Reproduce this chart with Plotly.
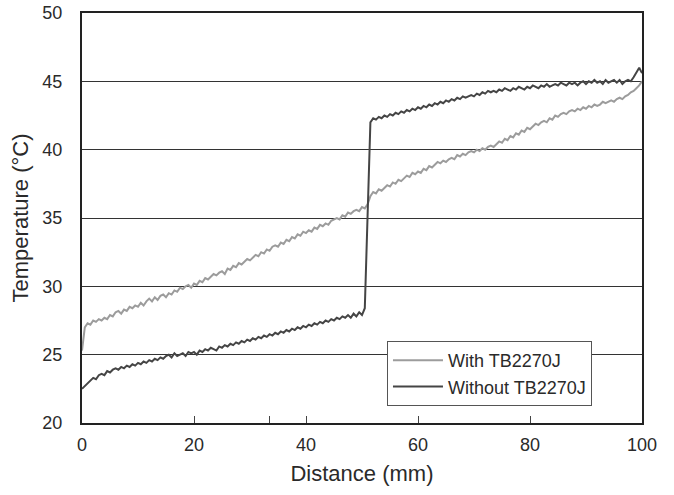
import numpy as np
import plotly.graph_objects as go

# Distance sampling grid (mm), 0.5 mm steps
distance = np.linspace(0, 100, 201)

with_tb = [
    25.3, 27.0, 27.3, 27.2, 27.5, 27.4, 27.6, 27.5, 27.7, 27.6,
    27.9, 27.8, 28.1, 28.2, 28.0, 28.3, 28.2, 28.5, 28.4, 28.6,
    28.5, 28.8, 28.6, 28.9, 29.1, 28.9, 29.2, 29.0, 29.3, 29.4,
    29.2, 29.5, 29.4, 29.7, 29.6, 29.9, 29.8, 30.0, 30.1, 29.9,
    30.2, 30.1, 30.4, 30.3, 30.6, 30.5, 30.7, 30.9, 30.8, 31.0,
    31.1, 30.9, 31.3, 31.2, 31.5, 31.4, 31.7, 31.6, 31.8, 32.0,
    31.9, 32.1, 32.3, 32.2, 32.5, 32.4, 32.7, 32.6, 32.9, 33.0,
    32.9, 33.2, 33.1, 33.4, 33.3, 33.6, 33.5, 33.8, 33.7, 34.0,
    33.9, 34.1, 34.0, 34.3, 34.2, 34.5, 34.4, 34.6, 34.5, 34.8,
    34.9, 35.0, 34.9, 35.2, 35.1, 35.4, 35.3, 35.5, 35.6, 35.5,
    35.8, 35.7, 36.0, 36.6, 36.9, 36.8, 37.1, 37.0, 37.2, 37.4,
    37.3, 37.6, 37.5, 37.8, 37.7, 37.9, 38.1, 38.0, 38.3, 38.2,
    38.4, 38.3, 38.6, 38.5, 38.8, 38.7, 38.9, 39.1, 39.0, 39.2,
    39.1, 39.3, 39.4, 39.3, 39.6, 39.5, 39.7, 39.6, 39.8, 39.9,
    39.8, 40.0, 39.9, 40.1, 40.0, 40.2, 40.3, 40.2, 40.4, 40.6,
    40.5, 40.8, 40.7, 41.0, 40.9, 41.2, 41.1, 41.4, 41.3, 41.6,
    41.5, 41.7, 41.9, 41.8, 42.0, 42.1, 42.0, 42.3, 42.2, 42.5,
    42.4, 42.6, 42.7, 42.6, 42.8, 42.9, 42.8, 43.0, 42.9, 43.1,
    43.0, 43.2, 43.1, 43.3, 43.2, 43.3, 43.5, 43.4, 43.5, 43.6,
    43.5, 43.7, 43.8, 43.7, 43.9, 44.0, 44.2, 44.3, 44.5, 44.7,
    45.0,
]

without_tb = [
    22.5, 22.7, 22.9, 23.1, 23.3, 23.2, 23.5, 23.6, 23.5, 23.8,
    23.7, 23.9, 24.0, 23.9, 24.1, 24.0, 24.2, 24.1, 24.3, 24.2,
    24.4, 24.3, 24.5, 24.4, 24.6, 24.5, 24.7, 24.6, 24.8, 24.7,
    24.9, 25.0, 24.8, 25.1, 24.9, 25.0, 25.1, 24.9, 25.2, 25.1,
    25.2, 25.0, 25.3, 25.2, 25.4, 25.3, 25.5, 25.4, 25.3, 25.6,
    25.5, 25.7, 25.6, 25.8, 25.7, 25.9, 25.8, 26.0, 25.9, 26.1,
    26.0, 26.2, 26.1, 26.3, 26.2, 26.4, 26.3, 26.5, 26.4, 26.6,
    26.5, 26.7, 26.6, 26.8, 26.7, 26.9, 26.8, 27.0, 26.9, 27.1,
    27.0, 27.2, 27.1, 27.3, 27.2, 27.4, 27.3, 27.5, 27.4, 27.6,
    27.5, 27.7, 27.6, 27.8, 27.7, 27.9, 27.7, 28.0, 27.8, 28.1,
    27.9, 28.4, 36.0, 42.0, 42.3, 42.2, 42.4, 42.3, 42.5, 42.4,
    42.6, 42.5, 42.7, 42.6, 42.8, 42.7, 42.9, 42.8, 43.0, 42.9,
    43.1, 43.0, 43.2, 43.1, 43.3, 43.2, 43.4, 43.3, 43.5, 43.4,
    43.6, 43.5, 43.7, 43.6, 43.8, 43.7, 43.9, 43.8, 43.9, 44.0,
    43.9, 44.1, 44.0, 44.2, 44.1, 44.3, 44.2, 44.3, 44.2, 44.4,
    44.3, 44.5, 44.4, 44.3, 44.5, 44.4, 44.6, 44.5, 44.4, 44.6,
    44.5, 44.7, 44.6, 44.5, 44.7, 44.6, 44.8, 44.6, 44.7, 44.8,
    44.7, 44.9, 44.8, 44.7, 44.9, 44.8, 44.9, 44.7, 44.9, 45.0,
    44.8, 45.0, 44.9, 45.1, 44.9, 45.0, 44.8, 45.1, 44.9, 45.0,
    45.1, 44.9, 45.1, 44.8, 45.0, 45.1, 45.0, 45.3, 45.7, 46.0,
    45.6,
]

x_tickvals = [0, 20, 33.4, 40, 60, 80, 100]
x_ticktext = ["0", "20", "", "40", "60", "80", "100"]
y_tickvals = [20, 25, 30, 35, 40, 45, 50]

FONT = "Liberation Sans, Arial, Helvetica, sans-serif"

fig = go.Figure()
fig.add_trace(go.Scatter(
    x=distance, y=with_tb, mode="lines", name="With TB2270J",
    line=dict(color="#9c9c9c", width=2),
))
fig.add_trace(go.Scatter(
    x=distance, y=without_tb, mode="lines", name="Without TB2270J",
    line=dict(color="#454545", width=2),
))

fig.update_layout(
    width=674, height=495,
    margin=dict(l=82, r=32, t=13, b=72),
    paper_bgcolor="white", plot_bgcolor="white",
    font=dict(family=FONT, size=18, color="#2a2a2a"),
    showlegend=True,
    legend=dict(
        x=0.5446, y=0.2, xanchor="left", yanchor="top",
        bgcolor="white", bordercolor="#555555", borderwidth=1,
        font=dict(size=18, color="#2a2a2a"),
        tracegroupgap=0, itemwidth=50, entrywidth=225,
    ),
    xaxis=dict(
        range=[0, 100], tickvals=x_tickvals, ticktext=x_ticktext,
        ticks="inside", ticklen=7, tickwidth=1, tickcolor="#444",
        showline=True, linewidth=2, linecolor="#222", mirror=True,
        showgrid=False, zeroline=False, automargin=False,
        tickfont=dict(size=18),
        title=dict(text="Distance (mm)", font=dict(size=22), standoff=12),
        ticklabelstandoff=4,
    ),
    yaxis=dict(
        range=[20, 50], tickvals=y_tickvals,
        ticks="", showline=True, linewidth=2, linecolor="#222", mirror=True,
        showgrid=True, gridcolor="#333333", gridwidth=1,
        zeroline=False, automargin=False,
        tickfont=dict(size=18),
        title=dict(text="Temperature (°C)", font=dict(size=22), standoff=8),
        ticklabelstandoff=14,
    ),
)

fig.write_html("out.html")
